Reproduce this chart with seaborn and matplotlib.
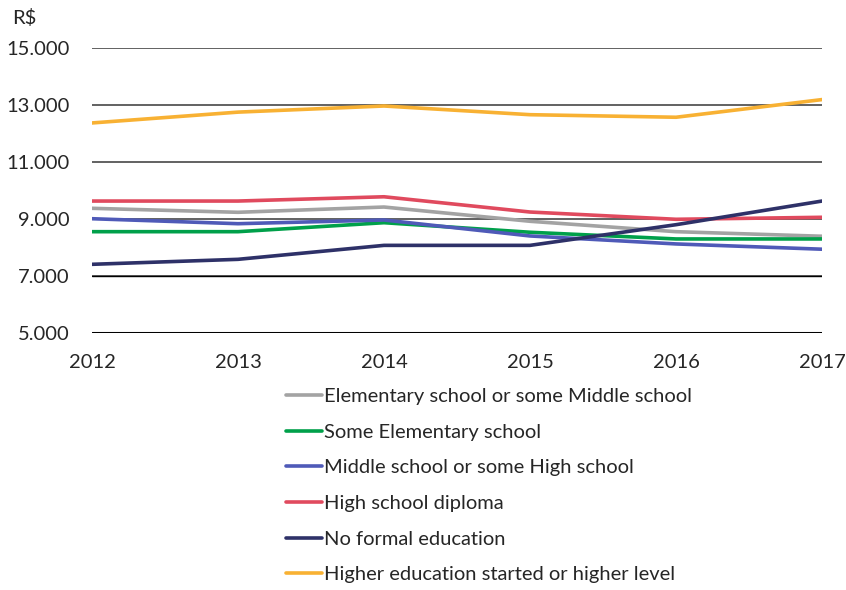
import pandas as pd
import numpy as np
import matplotlib
matplotlib.use("Agg")
import matplotlib.pyplot as plt
import seaborn as sns

years = [2012, 2013, 2014, 2015, 2016, 2017]

elementary_or_some_middle = [9375, 9235, 9420, 8920, 8555, 8395]
some_elementary = [8555, 8555, 8870, 8535, 8300, 8300]
middle_or_some_high = [9010, 8835, 8965, 8405, 8125, 7940]
high_school_diploma = [9630, 9630, 9780, 9245, 8990, 9060]
no_formal_education = [7410, 7585, 8075, 8075, 8800, 9630]
higher_education = [12370, 12750, 12965, 12660, 12570, 13190]

series_names = [
    "Elementary school or some Middle school",
    "Some Elementary school",
    "Middle school or some High school",
    "High school diploma",
    "No formal education",
    "Higher education started or higher level",
]
series_values = [
    elementary_or_some_middle,
    some_elementary,
    middle_or_some_high,
    high_school_diploma,
    no_formal_education,
    higher_education,
]
colors = ["#A3A3A3", "#00A04A", "#4F5AB8", "#E04A5E", "#2E3168", "#F8B133"]

y_ticks = [5000, 7000, 9000, 11000, 13000, 15000]

# long format for seaborn
rows = []
for name, vals in zip(series_names, series_values):
    for yr, v in zip(years, vals):
        rows.append({"year": yr, "value": v, "level": name})
df = pd.DataFrame(rows)

sns.set_style("white")
plt.rcParams["font.family"] = ["Lato", "DejaVu Sans"]
fs = 14.5

fig = plt.figure(figsize=(8.46, 5.90), dpi=100)
ax = fig.add_axes([92 / 846, 1 - 333 / 590, 730 / 846, 285 / 590])

for y in y_ticks[1:]:
    ax.axhline(y, color="#555555", lw=1.3, zorder=0)
ax.axhline(7000, color="black", lw=1.0, zorder=0)
ax.axhline(5000, color="black", lw=2.2, zorder=0)

sns.lineplot(data=df, x="year", y="value", hue="level", hue_order=series_names,
             palette=colors, linewidth=2.6, ax=ax, legend=True)

ax.set_xlim(2012, 2017)
ax.set_ylim(5000, 15000)
ax.set_xticks(years)
ax.set_xticklabels([str(y) for y in years], fontsize=fs)
ax.set_yticks(y_ticks)
ax.set_yticklabels([f"{y:,}".replace(",", ".") for y in y_ticks], fontsize=fs)
ax.tick_params(axis="x", length=0, pad=15)
ax.tick_params(axis="y", length=0, pad=16)
ax.set_xlabel("")
ax.set_ylabel("")
for s in ax.spines.values():
    s.set_visible(False)

fig.text(12 / 846, 1 - 18 / 590, "R$", fontsize=fs, va="center", ha="left")

handles, labels = ax.get_legend_handles_labels()
ax.legend(handles, labels, loc="upper left", bbox_to_anchor=(278 / 846, 1 - 380 / 590),
          bbox_transform=fig.transFigure, frameon=False, fontsize=fs,
          handlelength=1.8, handletextpad=0.1, labelspacing=0.92, borderaxespad=0)

fig.savefig("out.png", dpi=100)
